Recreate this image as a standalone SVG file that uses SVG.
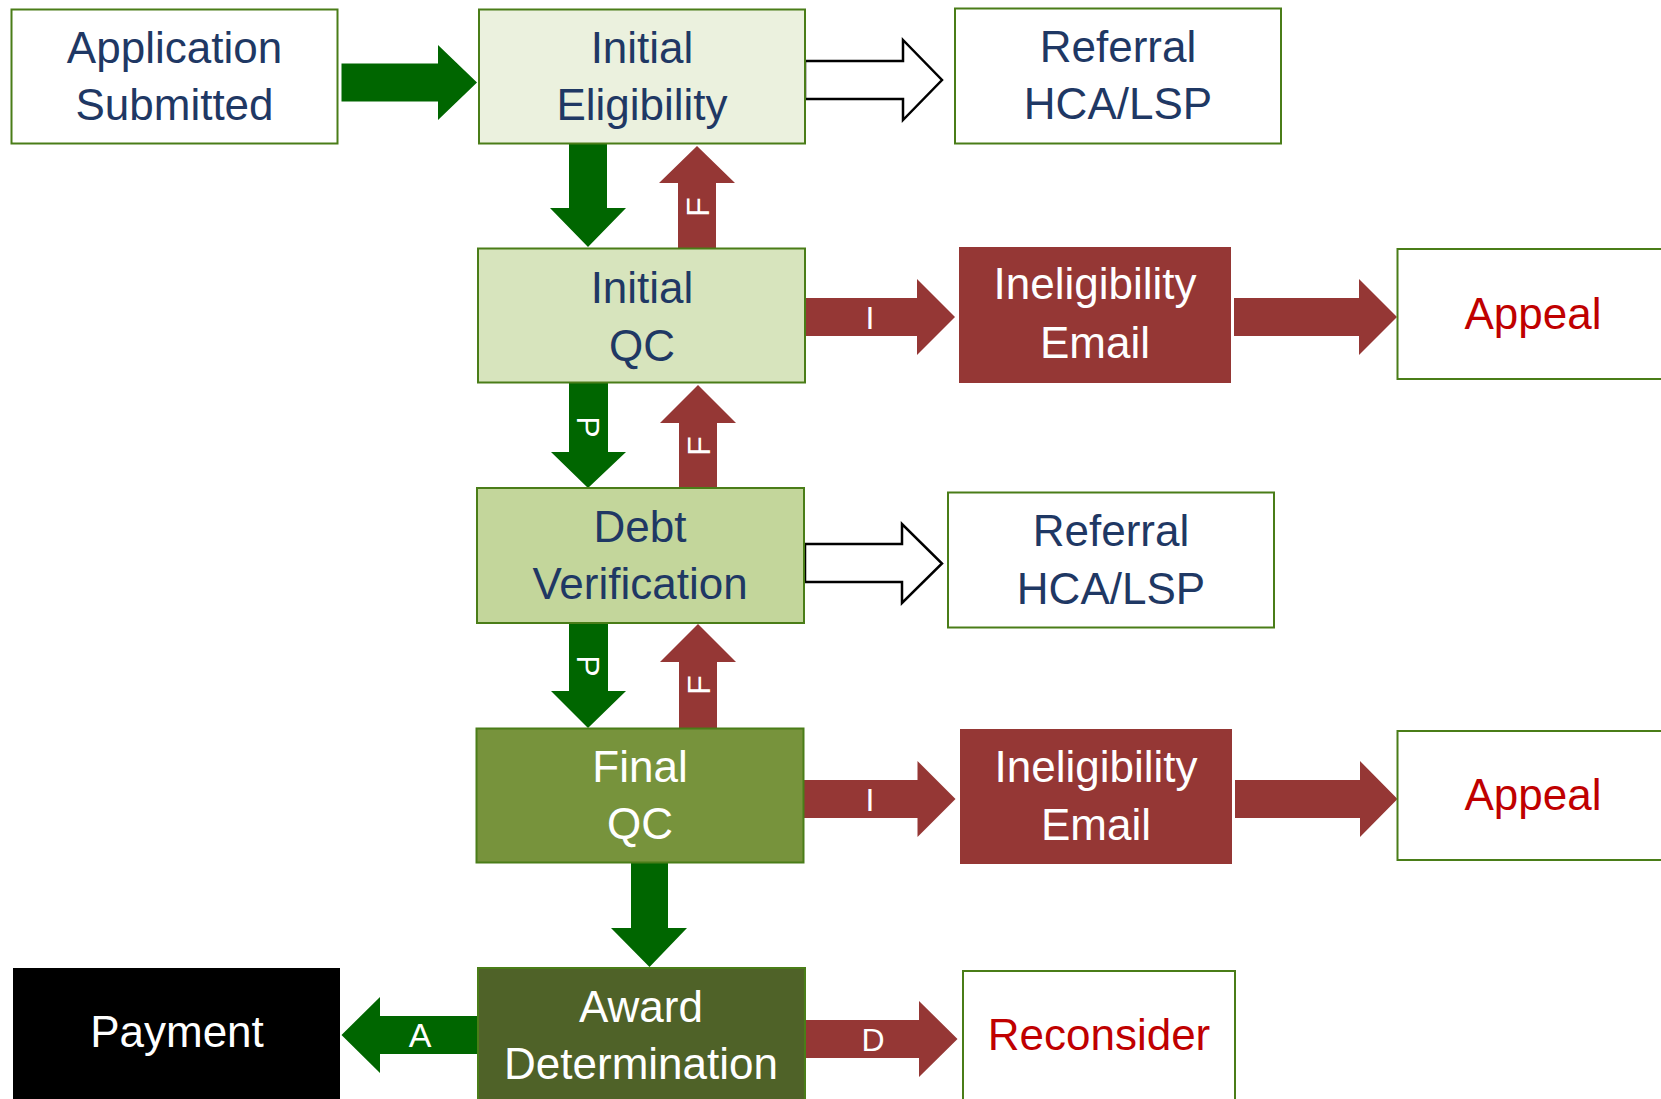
<svg xmlns="http://www.w3.org/2000/svg" width="1661" height="1099" viewBox="0 0 1661 1099">
<style>
.box{stroke:#4A7D18;stroke-width:2}
.t{font-family:"Liberation Sans",Arial,sans-serif;font-size:44px;text-anchor:middle}
.navy{fill:#1F3864}
.red{fill:#C00000}
.wh{fill:#FFFFFF}
.lbl{font-family:"Liberation Sans",Arial,sans-serif;font-size:32px;text-anchor:middle;fill:#FFFFFF}
.ga{fill:#006600}
.ra{fill:#953735}
.ha{fill:#FFFFFF;stroke:#000000;stroke-width:2.5;stroke-linejoin:miter}
</style>
<rect width="1661" height="1099" fill="#FFFFFF"/>
<g id="connectors">
  <polygon class="ga" points="341.5,63.5 438,63.5 438,45 477,82.5 438,120 438,101.5 341.5,101.5"/>
  <polygon class="ha" points="805,61 903,61 903,40 942,80 903,120 903,99 805,99"/>
  <polygon class="ga" points="569,144 607,144 607,208 626,208 588,247 550,208 569,208"/>
  <polygon class="ra" points="678,249 716,249 716,183 735,183 697,146 659,183 678,183"/>
  <text class="lbl" x="697" y="218.5" transform="rotate(-90 697 207)">F</text>
  <polygon class="ra" points="805,298 917,298 917,279 955,317 917,355 917,336 805,336"/>
  <text class="lbl" x="870" y="328.5">I</text>
  <polygon class="ra" points="1234,298 1359,298 1359,279 1397,317 1359,355 1359,336 1234,336"/>
  <polygon class="ga" points="569,383 608,383 608,452 626,452 588,488 551,452 569,452"/>
  <text class="lbl" x="588" y="438.5" transform="rotate(90 588 427)">P</text>
  <polygon class="ra" points="679,488 717,488 717,423 736,423 698,385 660,423 679,423"/>
  <text class="lbl" x="698" y="457.5" transform="rotate(-90 698 446)">F</text>
  <polygon class="ha" points="805,544 902,544 902,524 942,563.5 902,603 902,582 805,582"/>
  <polygon class="ga" points="569,623 608,623 608,691 626,691 588,728 551,691 569,691"/>
  <text class="lbl" x="588" y="677.5" transform="rotate(90 588 666)">P</text>
  <polygon class="ra" points="679,728 717,728 717,662 736,662 698,624 660,662 679,662"/>
  <text class="lbl" x="698" y="696.5" transform="rotate(-90 698 685)">F</text>
  <polygon class="ra" points="804,780 917.5,780 917.5,761 955.5,799 917.5,837 917.5,818 804,818"/>
  <text class="lbl" x="870" y="810.5">I</text>
  <polygon class="ra" points="1235,780 1360,780 1360,761 1397.5,799 1360,837 1360,818 1235,818"/>
  <polygon class="ga" points="631,863 668,863 668,928 687,928 649.5,967 611,928 631,928"/>
  <polygon class="ga" points="478,1016 380,1016 380,997 341.5,1035 380,1073 380,1054 478,1054"/>
  <text class="lbl" x="420" y="1047" style="font-size:34px">A</text>
  <polygon class="ra" points="805,1020 919,1020 919,1001 957.5,1039 919,1077 919,1058 805,1058"/>
  <text class="lbl" x="873" y="1050.5">D</text>
</g>
<g id="application-submitted">
  <rect class="box" x="11.5" y="9.5" width="326" height="134" fill="#FFFFFF"/>
  <text class="t navy" x="174.5" y="62.5">Application</text>
  <text class="t navy" x="174.5" y="120">Submitted</text>
</g>
<g id="initial-eligibility">
  <rect class="box" x="479" y="9.5" width="326" height="134" fill="#EBF1DE"/>
  <text class="t navy" x="642" y="62.5">Initial</text>
  <text class="t navy" x="642" y="120">Eligibility</text>
</g>
<g id="referral-1">
  <rect class="box" x="955" y="8.5" width="326" height="135" fill="#FFFFFF"/>
  <text class="t navy" x="1118" y="61.5">Referral</text>
  <text class="t navy" x="1118" y="119">HCA/LSP</text>
</g>
<g id="initial-qc">
  <rect class="box" x="478" y="248.5" width="327" height="134" fill="#D7E4BD"/>
  <text class="t navy" x="642" y="302.5">Initial</text>
  <text class="t navy" x="642" y="360.5">QC</text>
</g>
<g id="ineligibility-email-1">
  <rect x="959" y="247" width="272" height="136" fill="#953735"/>
  <text class="t wh" x="1095" y="299">Ineligibility</text>
  <text class="t wh" x="1095" y="357.5">Email</text>
</g>
<g id="appeal-1">
  <rect class="box" x="1397.5" y="249" width="272" height="130" fill="#FFFFFF"/>
  <text class="t red" x="1533" y="328.5">Appeal</text>
</g>
<g id="debt-verification">
  <rect class="box" x="477" y="488" width="327" height="135" fill="#C3D69B"/>
  <text class="t navy" x="640" y="541.5">Debt</text>
  <text class="t navy" x="640" y="599">Verification</text>
</g>
<g id="referral-2">
  <rect class="box" x="948" y="492.5" width="326" height="135" fill="#FFFFFF"/>
  <text class="t navy" x="1111" y="546">Referral</text>
  <text class="t navy" x="1111" y="603.5">HCA/LSP</text>
</g>
<g id="final-qc">
  <rect class="box" x="476.5" y="728.5" width="327" height="134" fill="#77933C"/>
  <text class="t wh" x="640" y="781.5">Final</text>
  <text class="t wh" x="640" y="838.5">QC</text>
</g>
<g id="ineligibility-email-2">
  <rect x="960" y="729" width="272" height="135" fill="#953735"/>
  <text class="t wh" x="1096" y="781.5">Ineligibility</text>
  <text class="t wh" x="1096" y="840">Email</text>
</g>
<g id="appeal-2">
  <rect class="box" x="1397.5" y="731" width="272" height="129" fill="#FFFFFF"/>
  <text class="t red" x="1533" y="810">Appeal</text>
</g>
<g id="payment">
  <rect x="13" y="968" width="327" height="131" fill="#000000"/>
  <text class="t wh" x="177" y="1046.5">Payment</text>
</g>
<g id="award-determination">
  <rect class="box" x="478" y="968" width="327" height="140" fill="#4F6228"/>
  <text class="t wh" x="641" y="1021.5">Award</text>
  <text class="t wh" x="641" y="1079">Determination</text>
</g>
<g id="reconsider">
  <rect class="box" x="963" y="971" width="272" height="140" fill="#FFFFFF"/>
  <text class="t red" x="1099" y="1050">Reconsider</text>
</g>
</svg>
